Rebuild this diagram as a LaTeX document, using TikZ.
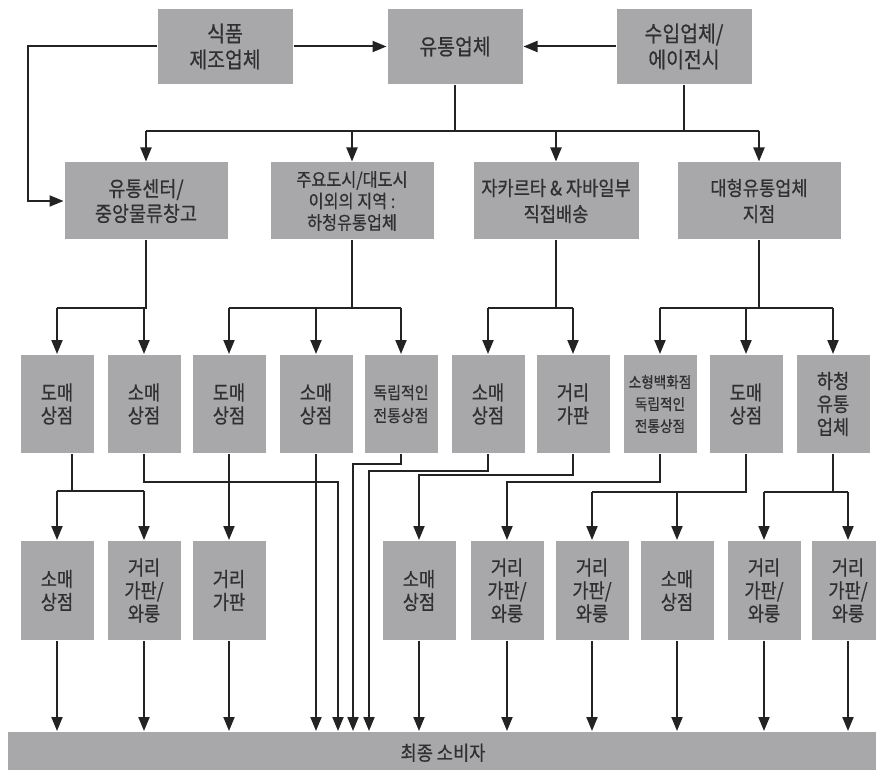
\documentclass[tikz,border=0pt]{standalone}
\usepackage{fontspec}
\usetikzlibrary{arrows.meta}
\newfontfamily\kor[FakeStretch=0.88,FakeBold=0.6]{Noto Sans CJK KR}
\definecolor{boxgray}{RGB}{168,168,171}
\definecolor{inkgray}{RGB}{48,48,50}
\definecolor{linegray}{RGB}{35,35,35}
\begin{document}
\begin{tikzpicture}[x=1pt, y=-1pt,
    box/.style={fill=boxgray, text=inkgray, inner sep=0pt, align=center, font=\kor\fontsize{20}{26}\selectfont},
    topbox/.style={box, minimum width=135pt, minimum height=75pt, font=\kor\fontsize{22}{26}\selectfont},
    midbox/.style={box, minimum width=163pt, minimum height=77pt},
    shop/.style={box, minimum width=73pt, minimum height=98pt, font=\kor\fontsize{20}{23}\selectfont},
    arr/.style={-{Triangle[length=14pt,width=11pt]}},
    line width=2pt, draw=linegray]
    \clip (0,0) rectangle (876,770);
    \fill[white] (0,0) rectangle (876,770);
    % top row
    \node[topbox] (food) at (225,46.5) {식품\\제조업체};
    \node[topbox] (dist) at (455,46.5) {유통업체};
    \node[topbox] (imp) at (684,46.5) {수입업체/\\에이전시};
    % second row
    \node[midbox, font=\kor\fontsize{21}{25}\selectfont] (ctr) at (146,201) {유통센터/\\중앙물류창고};
    \node[midbox, font=\kor\fontsize{18.5}{21.5}\selectfont] (reg) at (352,201) {주요도시/대도시\\이외의 지역 :\\하청유통업체};
    \node[midbox, minimum width=165pt] (jkt) at (556,201) {자카르타 \& 자바일부\\직접배송};
    \node[midbox] (big) at (759,201) {대형유통업체\\지점};
    % third row
    \node[shop] (w1) at (57,404) {도매\\상점};
    \node[shop] (r1) at (144,404) {소매\\상점};
    \node[shop] (w2) at (229,404) {도매\\상점};
    \node[shop] (r2) at (316,404) {소매\\상점};
    \node[shop, font=\kor\fontsize{17}{23}\selectfont] (ind1) at (401,404) {독립적인\\전통상점};
    \node[shop] (r3) at (488,404) {소매\\상점};
    \node[shop] (st1) at (573,404) {거리\\가판};
    \node[shop, font=\kor\fontsize{15.5}{22}\selectfont] (ind2) at (660,404) {소형백화점\\독립적인\\전통상점};
    \node[shop] (w3) at (746,404) {도매\\상점};
    \node[shop] (sub) at (833,404) {하청\\유통\\업체};
    % fourth row
    \node[shop, minimum height=99pt] (r4) at (57,590.5) {소매\\상점};
    \node[shop, minimum height=99pt] (s2) at (144,590.5) {거리\\가판/\\와룽};
    \node[shop, minimum height=99pt] (s3) at (229,590.5) {거리\\가판};
    \node[shop, minimum height=99pt] (r5) at (419,590.5) {소매\\상점};
    \node[shop, minimum height=99pt] (s4) at (507,590.5) {거리\\가판/\\와룽};
    \node[shop, minimum height=99pt] (s5) at (592,590.5) {거리\\가판/\\와룽};
    \node[shop, minimum height=99pt] (r6) at (677,590.5) {소매\\상점};
    \node[shop, minimum height=99pt] (s6) at (764,590.5) {거리\\가판/\\와룽};
    \node[shop, minimum height=99pt] (s7) at (848,590.5) {거리\\가판/\\와룽};
    % consumers
    \node[box, minimum width=870pt, minimum height=40pt, text depth=0pt] (cons) at (443,752) {최종 소비자};
    % top connections
    \draw[arr] (food.east) -- (dist.west);
    \draw[arr] (imp.west) -- (dist.east);
    \coordinate (loop) at (28,201);
    \draw[arr] (food.west) -| (loop) -- (ctr.west);
    \coordinate (bus1) at (0,131);
    \draw (dist.south) -- (dist.south |- bus1);
    \draw (imp.south) -- (imp.south |- bus1);
    \draw (ctr.north |- bus1) -- (big.north |- bus1);
    \foreach \n in {ctr,reg,jkt,big}
        \draw[arr] (\n.north |- bus1) -- (\n.north);
    % second to third row
    \coordinate (bus2) at (0,308);
    \draw (ctr.south) -- (ctr.south |- bus2) -- (w1.north |- bus2);
    \draw (reg.south) -- (reg.south |- bus2);
    \draw (w2.north |- bus2) -- (ind1.north |- bus2);
    \draw (jkt.south) -- (jkt.south |- bus2);
    \draw (r3.north |- bus2) -- (st1.north |- bus2);
    \draw (big.south) -- (big.south |- bus2);
    \draw (ind2.north |- bus2) -- (sub.north |- bus2);
    \foreach \n in {w1,r1,w2,r2,ind1,r3,st1,ind2,w3,sub}
        \draw[arr] (\n.north |- bus2) -- (\n.north);
    % third to fourth row
    \coordinate (j1) at (72,491);
    \draw ([xshift=15pt]w1.south) -- (j1);
    \draw (r4.north |- j1) -- (s2.north |- j1);
    \draw[arr] (r4.north |- j1) -- (r4.north);
    \draw[arr] (s2.north |- j1) -- (s2.north);
    \draw[arr] (w2.south) -- (s3.north);
    \coordinate (j2) at (338,482);
    \draw[arr] (r1.south) |- (j2) -- (j2 |- cons.north);
    \draw[arr] (r2.south) -- (r2.south |- cons.north);
    \coordinate (j3) at (353,464);
    \draw[arr] (ind1.south) |- (j3) -- (j3 |- cons.north);
    \coordinate (j4) at (369,471);
    \draw[arr] (r3.south) |- (j4) -- (j4 |- cons.north);
    \coordinate (j5) at (419,475);
    \draw[arr] (st1.south) |- (j5) -- (r5.north);
    \coordinate (j6) at (507,482);
    \draw[arr] (ind2.south) |- (j6) -- (s4.north);
    \coordinate (j7) at (0,492);
    \draw (w3.south) -- (w3.south |- j7) -- (s5.north |- j7);
    \draw[arr] (s5.north |- j7) -- (s5.north);
    \draw[arr] (r6.north |- j7) -- (r6.north);
    \draw (sub.south) -- (sub.south |- j7);
    \draw (s6.north |- j7) -- (s7.north |- j7);
    \draw[arr] (s6.north |- j7) -- (s6.north);
    \draw[arr] (s7.north |- j7) -- (s7.north);
    % to consumers
    \foreach \n in {r4,s2,s3,r5,s4,s5,r6,s6,s7}
        \draw[arr] (\n.south) -- (\n.south |- cons.north);
\end{tikzpicture}
\end{document}
